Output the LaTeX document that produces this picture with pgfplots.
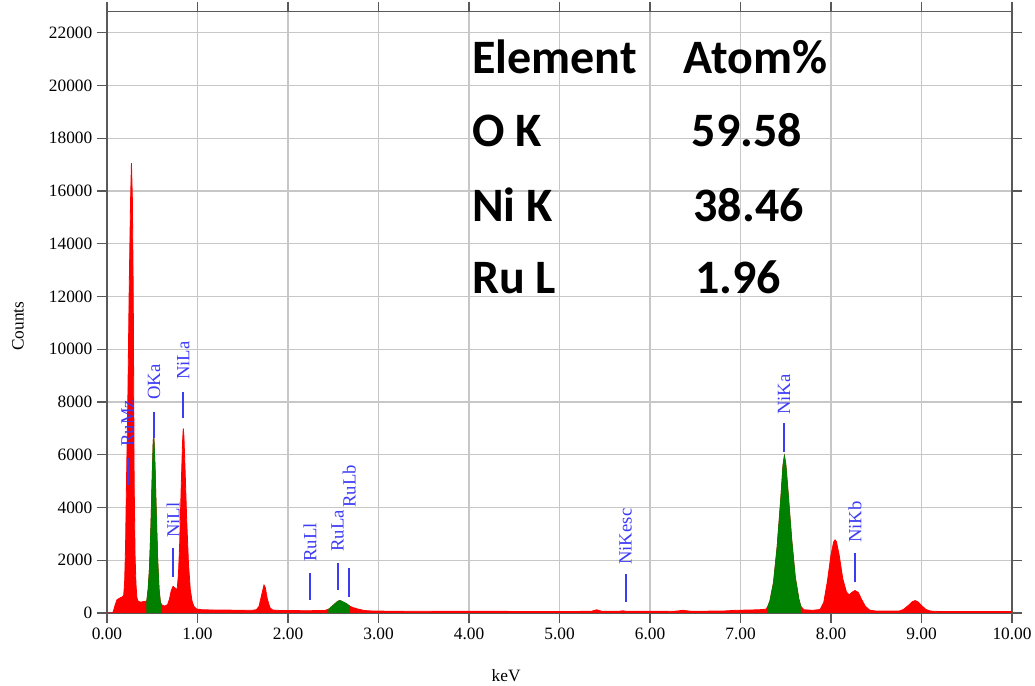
\documentclass[border=0pt]{standalone}
\usepackage{fontspec}
\setmainfont{Liberation Serif}
\newfontfamily\calib{Carlito}
\usepackage{pgfplots}
\usepackage{pgfplotstable}
\pgfplotsset{compat=1.18}
\usetikzlibrary{calc}

\definecolor{specred}{RGB}{255,0,0}
\definecolor{specgreen}{RGB}{0,128,0}
\definecolor{lblue}{RGB}{60,60,245}

\pgfplotstableread{
x y
0.00 0
0.06 0
0.07 60
0.09 300
0.11 500
0.13 540
0.15 580
0.17 610
0.185 680
0.195 1200
0.205 2500
0.215 4900
0.23 8000
0.245 12200
0.26 15600
0.27 17050
0.28 15800
0.29 12200
0.30 5000
0.31 2200
0.32 1100
0.33 600
0.34 460
0.36 420
0.38 410
0.40 430
0.42 440
0.44 450
0.455 900
0.47 1700
0.485 3200
0.50 5200
0.51 6400
0.515 6740
0.52 6500
0.53 5600
0.545 3700
0.56 2000
0.575 900
0.59 400
0.61 290
0.64 260
0.67 320
0.69 520
0.71 850
0.73 1010
0.75 950
0.775 880
0.79 1500
0.805 2800
0.82 4800
0.835 6500
0.843 7000
0.85 6700
0.865 5200
0.88 3600
0.90 1900
0.92 900
0.94 450
0.96 250
0.99 150
1.05 120
1.2 110
1.4 105
1.6 100
1.65 120
1.68 250
1.71 700
1.735 1060
1.75 950
1.77 550
1.80 200
1.83 110
1.9 95
2.0 90
2.2 85
2.4 90
2.45 140
2.50 290
2.55 440
2.575 470
2.60 430
2.65 340
2.68 260
2.72 200
2.78 140
2.85 90
2.95 70
3.2 65
3.6 60
4.0 60
4.5 58
5.0 55
5.35 60
5.41 120
5.47 60
5.65 60
5.70 80
5.75 60
6.2 60
6.30 70
6.36 100
6.45 65
6.8 70
6.95 100
7.1 110
7.2 120
7.28 140
7.30 230
7.325 450
7.365 1150
7.405 2500
7.445 4300
7.47 5600
7.485 5950
7.50 5650
7.525 4600
7.565 2800
7.605 1350
7.645 520
7.665 260
7.70 120
7.80 100
7.88 130
7.92 400
7.96 1200
8.00 2200
8.03 2700
8.045 2770
8.06 2700
8.09 2200
8.13 1300
8.17 800
8.20 680
8.23 780
8.265 850
8.30 780
8.34 500
8.38 250
8.43 100
8.5 70
8.75 70
8.80 130
8.86 300
8.90 430
8.93 470
8.96 420
9.00 280
9.05 130
9.10 70
9.2 55
9.6 52
10.0 50
}\spectrum

\pgfplotstableread{
x y
0.44 450
0.455 900
0.47 1700
0.485 3200
0.50 5200
0.51 6400
0.515 6740
0.52 6500
0.53 5600
0.545 3700
0.56 2000
0.575 900
0.59 400
}\okpeak

\pgfplotstableread{
x y
2.45 140
2.50 290
2.55 440
2.575 470
2.60 430
2.65 340
2.68 260
}\rupeak

\pgfplotstableread{
x y
7.30 230
7.325 450
7.365 1150
7.405 2500
7.445 4300
7.47 5600
7.485 5950
7.50 5650
7.525 4600
7.565 2800
7.605 1350
7.645 520
7.665 260
}\nipeak

\begin{document}
\begin{tikzpicture}
\begin{axis}[
  scale only axis,
  width=678.75pt, height=451pt,
  xmin=0, xmax=10, ymin=0, ymax=22800,
  xtick={0,1,2,3,4,5,6,7,8,9,10},
  xticklabels={0.00,1.00,2.00,3.00,4.00,5.00,6.00,7.00,8.00,9.00,10.00},
  ytick={0,2000,4000,6000,8000,10000,12000,14000,16000,18000,20000,22000},
  yticklabels={0,2000,4000,6000,8000,10000,12000,14000,16000,18000,20000,22000},
  grid=major,
  major grid style={draw=black!22, line width=0.9pt},
  axis line style={draw=black!65, line width=0.9pt},
  tick align=outside,
  major tick length=7.5pt,
  tick style={draw=black!65, line width=0.9pt},
  ticklabel style={font=\fontsize{13}{13}\selectfont},
  xlabel={keV}, ylabel={Counts},
  label style={font=\fontsize{13}{13}\selectfont},
  xlabel style={at={(axis description cs:0.441,-0.1147)}, anchor=base},
  ylabel style={at={(axis description cs:-0.0983,0.477)}, anchor=center},
  unbounded coords=jump,
]
\addplot[draw=specred, fill=specred, line width=0.6pt] table[x=x,y=y] {\spectrum} \closedcycle;
\addplot[draw=specgreen, fill=specgreen, line width=0.6pt] table[x=x,y=y] {\okpeak} \closedcycle;
\addplot[draw=specgreen, fill=specgreen, line width=0.6pt] table[x=x,y=y] {\rupeak} \closedcycle;
\addplot[draw=specgreen, fill=specgreen, line width=0.6pt] table[x=x,y=y] {\nipeak} \closedcycle;

% peak markers
\addplot[draw=lblue, line width=1.5pt, mark=none] coordinates {
 (0.229,4853) (0.229,5876) (0.229,nan)
 (0.519,6634) (0.519,7620) (0.519,nan)
 (0.843,7393) (0.843,8378) (0.843,nan)
 (0.732,1365) (0.732,2464) (0.732,nan)
 (2.243,493) (2.243,1516) (2.243,nan)
 (2.549,872) (2.549,1896) (2.549,nan)
 (2.677,607) (2.677,1706) (2.677,nan)
 (5.731,417) (5.731,1478) (5.731,nan)
 (7.481,6104) (7.481,7203) (7.481,nan)
 (8.265,1175) (8.265,2275)
};

\tikzset{pklab/.style={rotate=90, anchor=west, inner sep=0pt, text=lblue, font=\fontsize{14}{14}\selectfont}}
\node[pklab] at (axis cs:0.229,6293) {RuMz};
\node[pklab] at (axis cs:0.519,8075) {OKa};
\node[pklab] at (axis cs:0.843,8833) {NiLa};
\node[pklab] at (axis cs:0.732,2843) {NiLl};
\node[pklab] at (axis cs:2.243,1933) {RuLl};
\node[pklab] at (axis cs:2.549,2312) {RuLa};
\node[pklab] at (axis cs:2.677,3981) {RuLb};
\node[pklab] at (axis cs:5.731,1820) {NiKesc};
\node[pklab] at (axis cs:7.481,7506) {NiKa};
\node[pklab] at (axis cs:8.265,2654) {NiKb};

% composition table
\tikzset{bigt/.style={anchor=base west, inner sep=0pt, font=\calib\bfseries\fontsize{36}{36}\selectfont}}
\node[bigt] at (axis cs:4.033,20461) {Element};
\node[bigt] at (axis cs:6.368,20461) {Atom\%};
\node[bigt] at (axis cs:4.033,17678) {O K};
\node[bigt] at (axis cs:6.461,17678) {59.58};
\node[bigt] at (axis cs:4.033,14835) {Ni K};
\node[bigt] at (axis cs:6.479,14835) {38.46};
\node[bigt] at (axis cs:4.033,12120) {Ru L};
\node[bigt] at (axis cs:6.497,12120) {1.96};
\end{axis}
\pgfresetboundingbox
\path[use as bounding box] ($(current axis.south west)+(-80.25pt,-54.75pt)$) rectangle ($(current axis.north east)+(17.25pt,8.7pt)$);
\end{tikzpicture}
\end{document}
